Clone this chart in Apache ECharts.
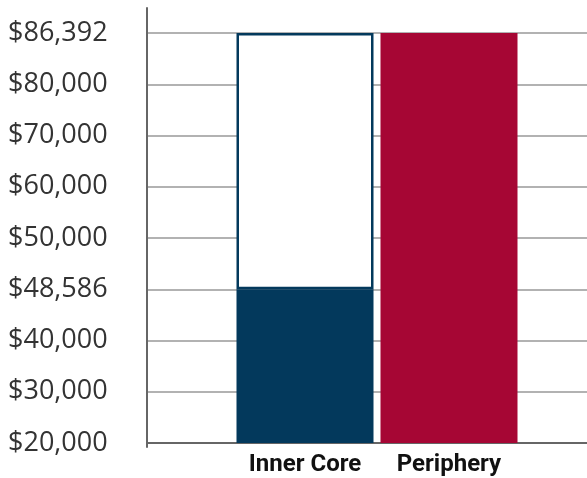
<!DOCTYPE html>
<html>
<head>
<meta charset="utf-8">
<script src="https://cdn.jsdelivr.net/npm/echarts@6/dist/echarts.min.js"></script>
<style>
  html, body { margin: 0; padding: 0; background: #fff; }
  #chart { width: 587px; height: 478px; }
</style>
</head>
<body>
<div id="chart"></div>
<script>
// ── 数据 ─────────────────────────────
const categories = ["Inner Core", "Periphery"];
const incomes = [48586, 86392];
// 刻度值（图中等距排列，不按数值比例）
const tickValues = [20000, 30000, 40000, 48586, 50000, 60000, 70000, 80000, 86392];
const tickLabels = ["$20,000", "$30,000", "$40,000", "$48,586", "$50,000", "$60,000", "$70,000", "$80,000", "$86,392"];

const NAVY = "#03395c";
const CRIMSON = "#a60634";
const maxIncome = Math.max(...incomes);
const pos = (v) => tickValues.indexOf(v);
const maxPos = tickValues.length - 1;

// Inner Core: 实心部分 + 到 Periphery 的空心差额
const innerSolid = [pos(incomes[0]), "-"];
const innerGap = [pos(maxIncome) - pos(incomes[0]), "-"];
const periphery = ["-", pos(incomes[1])];

const chart = echarts.init(document.getElementById("chart"), null, { renderer: "canvas" });

chart.setOption({
  animation: false,
  backgroundColor: "#fff",
  grid: [
    // 0: 纵轴线（比绘图区略长）
    { left: 147, right: 0, top: 8, bottom: 31 },
    // 1: 刻度与网格线
    { left: 147, right: 0, top: 33, bottom: 35 },
    // 2: 柱子
    { left: 233, right: 66, top: 33, bottom: 35 },
  ],
  xAxis: [
    { gridIndex: 0, type: "value", show: false },
    {
      gridIndex: 1, type: "value",
      axisLine: { show: true, lineStyle: { color: "#666", width: 2 } },
      axisTick: { show: false }, axisLabel: { show: false }, splitLine: { show: false },
    },
    {
      gridIndex: 2, type: "category", data: categories,
      axisLine: { show: false }, axisTick: { show: false },
      axisLabel: {
        interval: 0, hideOverlap: false, margin: 10,
        color: "#111", fontFamily: "Roboto", fontWeight: "bold", fontSize: 24,
      },
    },
  ],
  yAxis: [
    {
      gridIndex: 0, type: "value",
      axisLine: { show: true, lineStyle: { color: "#666", width: 2 } },
      axisTick: { show: false }, axisLabel: { show: false }, splitLine: { show: false },
    },
    {
      gridIndex: 1, type: "value", min: 0, max: maxPos, interval: 1,
      axisLine: { show: false }, axisTick: { show: false },
      axisLabel: {
        align: "left", margin: 139, color: "#333",
        fontFamily: "Open Sans", fontSize: 27,
        formatter: (v) => tickLabels[v] ?? "",
      },
      splitLine: { show: true, lineStyle: { color: "#999", width: 1.5 } },
    },
    { gridIndex: 2, type: "value", min: 0, max: maxPos, show: false },
  ],
  series: [
    {
      name: "solid", type: "bar", xAxisIndex: 2, yAxisIndex: 2, stack: "inner",
      barWidth: 137, barGap: "-100%", data: innerSolid,
      itemStyle: { color: NAVY },
    },
    {
      name: "gap", type: "bar", xAxisIndex: 2, yAxisIndex: 2, stack: "inner",
      barWidth: 137, barGap: "-100%", data: innerGap,
      itemStyle: { color: "#fff", borderColor: NAVY, borderWidth: 2.5 },
    },
    {
      name: "periphery", type: "bar", xAxisIndex: 2, yAxisIndex: 2,
      barWidth: 137, barGap: "-100%", data: periphery,
      itemStyle: { color: CRIMSON },
    },
  ],
});
</script>
</body>
</html>
